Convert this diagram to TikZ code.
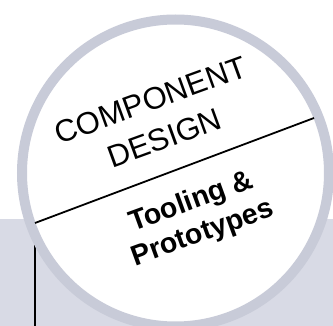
\documentclass[tikz,border=0pt]{standalone}
\usepackage{fontspec}
\setmainfont{Liberation Sans}
\definecolor{ringgray}{RGB}{200,203,216}
\definecolor{bggray}{RGB}{216,218,229}
\begin{document}
\begin{tikzpicture}[x=1pt,y=-1pt,
  regtext/.style={inner sep=0pt,rotate=20,align=center,font=\fontsize{31}{40}\selectfont},
  boldtext/.style={inner sep=0pt,rotate=20,align=center,font=\fontsize{28.5}{33.5}\selectfont\bfseries},
  blackline/.style={draw=black,line width=1.8pt}]
\useasboundingbox (0,0) rectangle (333,326);
\clip (0,0) rectangle (333,326);
\fill[white] (0,0) rectangle (333,326);
\fill[bggray] (0,219) rectangle (333,326);
\coordinate (c) at (175.5,173);
\fill[white] (c) circle[radius=153.5pt];
\coordinate (v1) at (35,240);
\coordinate (v2) at (35,330);
\draw[blackline] (v1) -- (v2);
\draw[ringgray,line width=10pt] (c) circle[radius=153.5pt];
\coordinate (l1) at (35,223);
\coordinate (l2) at (314,118);
\draw[blackline] (l1) -- (l2);
\node[regtext] (comp) at (157.5,119) {COMPONENT\\DESIGN};
\node[boldtext] (tool) at (197,218) {Tooling \&\\Prototypes};
\end{tikzpicture}
\end{document}
